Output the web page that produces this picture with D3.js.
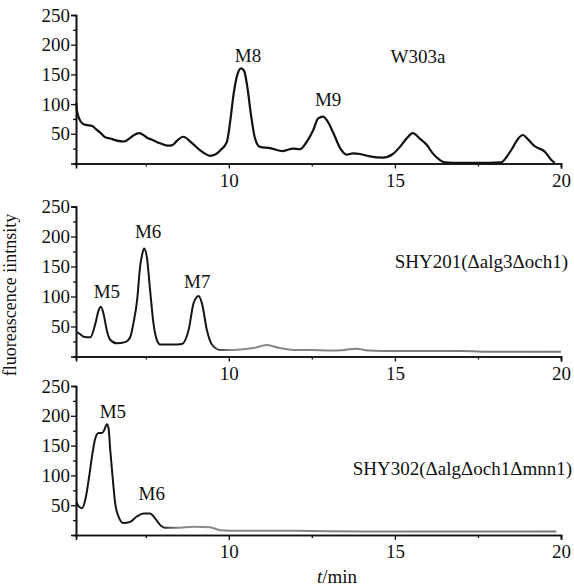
<!DOCTYPE html>
<html><head><meta charset="utf-8">
<script src="https://cdn.jsdelivr.net/npm/d3@7"></script>
<style>
body{margin:0;background:#fff;}
text{font-family:"Liberation Serif","Times New Roman",serif;fill:#111;}
</style></head>
<body><svg id="c" width="574" height="588"></svg>
<script>
// ---- data ----
const topT = [5.41,5.43,5.5,5.6,5.7,5.89,6.0,6.13,6.28,6.43,6.6,6.85,7.03,7.15,7.3,7.4,7.55,7.69,7.93,8.15,8.3,8.45,8.63,8.84,9.0,9.14,9.3,9.44,9.59,9.74,9.94,10.04,10.14,10.26,10.37,10.46,10.56,10.66,10.79,10.94,11.24,11.63,11.93,12.14,12.35,12.54,12.69,12.84,12.95,13.15,13.35,13.55,13.74,13.95,14.25,14.64,14.94,15.15,15.35,15.54,15.75,15.95,16.14,16.35,16.5,17.0,17.5,18.2,18.36,18.56,18.7,18.85,19.0,19.21,19.51,19.71,19.81];
const topV = [102,88,75,67,65,63,58,52,44,42,39,37,43,48,51,49,43,40,34,30,31,39,45,37,29,22,16,13,15,22,36,70,115,150,160,156,128,85,42,28,26,21,25,24,37,56,76,79,73,51,26,15,17,16,12,10,16,28,42,51,42,32,17,6,2,1,1,2,11,28,41,48,41,29,20,6,1];
const midT = [5.41,5.48,5.63,5.83,5.98,6.08,6.15,6.23,6.33,6.43,6.63,6.88,7.03,7.13,7.24,7.33,7.40,7.45,7.53,7.63,7.73,7.83,7.93,8.3,8.59,8.79,8.94,9.09,9.19,9.34,9.49,9.74,10.14,10.74,11.14,11.54,11.94,12.5,13.0,13.5,13.85,14.2,15,16,17,18,19,20];
const midV = [40,39,33,32,54,77,83,71,43,28,22,24,32,56,94,150,172,180,167,111,56,28,20,20,21,44,89,101,89,44,20,11,11,14,19,14,11,11,10,11,13,10,9,9,9,8,8,8];
const botT = [5.41,5.48,5.58,5.68,5.78,5.88,5.98,6.08,6.18,6.25,6.33,6.38,6.43,6.51,6.58,6.68,6.83,7.03,7.23,7.43,7.63,7.78,7.93,8.08,8.43,8.94,9.44,9.74,10.34,12,14,16,18,19.86];
const botV = [56,48,45,59,92,131,162,171,171,176,186,179,143,92,53,31,20,22,31,36,36,28,17,12,12,14,13,8,7,7,6,6,6,6];
const xTicks = [10,15,20];
const xMinor = [7.5,12.5,17.5];
const yTicks = [50,100,150,200,250];
const yMinor = [25,75,125,175,225];
const panelNames = ["W303a","SHY201(\u0394alg3\u0394och1)","SHY302(\u0394alg\u0394och1\u0394mnn1)"];
const peakNames = [["M8","M9"],["M5","M6","M7"],["M5","M6"]];
const peakPos = [[[10.58,171],[12.99,97]],[[6.33,98],[7.57,197],[9.05,114]],[[6.51,196],[7.68,59]]];
const xLabel = "min", yLabel = "fluoreascence iintnsity";

const svg = d3.select("#c");
const x = d3.scaleLinear().domain([5.4,20]).range([76,561]);
const panels = [
  {t:topT,v:topV,y0:163.5,y1:15,grey:null,name:panelNames[0],nx:418,ny:63,anchor:"middle",w:2.2},
  {t:midT,v:midV,y0:356.5,y1:206.5,grey:9.75,name:panelNames[1],nx:568,ny:268,anchor:"end",w:2},
  {t:botT,v:botV,y0:535,y1:386,grey:8.2,name:panelNames[2],nx:572,ny:475,anchor:"end",w:2}
];
const defs = svg.append("defs");
panels.forEach((p,i)=>{
  const y = d3.scaleLinear().domain([0,250]).range([p.y0,p.y1]);
  const g = svg.append("g");
  g.append("g").attr("transform",`translate(${x.range()[0]},0)`)
    .call(d3.axisLeft(y).tickValues(yTicks).tickSize(5).tickPadding(1).tickFormat(d3.format("d")));
  g.append("g").attr("transform",`translate(${x.range()[0]},0)`)
    .call(d3.axisLeft(y).tickValues(yMinor).tickSize(3).tickFormat(""));
  g.append("g").attr("transform",`translate(0,${p.y0})`)
    .call(d3.axisBottom(x).tickValues(xTicks).tickSize(5).tickPadding(5));
  g.append("g").attr("transform",`translate(0,${p.y0})`)
    .call(d3.axisBottom(x).tickValues(xMinor).tickSize(3).tickFormat(""));
  g.selectAll(".domain").attr("stroke","#111").attr("stroke-width",1.6);
  g.selectAll(".tick line").attr("stroke","#111").attr("stroke-width",1.3);
  g.selectAll(".tick text").attr("font-size",19).attr("font-family","Liberation Serif").attr("fill","#111");
  let stroke = "#111";
  if(p.grey){
    const gid="gr"+i;
    const lg = defs.append("linearGradient").attr("id",gid).attr("gradientUnits","userSpaceOnUse")
      .attr("x1",x(5.4)).attr("x2",x(20)).attr("y1",0).attr("y2",0);
    const f = (x(p.grey)-x(5.4))/(x(20)-x(5.4));
    lg.append("stop").attr("offset",f-0.02).attr("stop-color","#151515");
    lg.append("stop").attr("offset",f+0.02).attr("stop-color","#8a8a8a");
    lg.append("stop").attr("offset",1).attr("stop-color","#777");
    stroke = `url(#${gid})`;
  }
  const data = p.t.map((t,k)=>[t,p.v[k]]);
  g.append("path").datum(data)
    .attr("d",d3.line().x(d=>x(d[0])).y(d=>y(d[1])).curve(d3.curveMonotoneX))
    .attr("fill","none").attr("stroke",stroke).attr("stroke-width",p.w).attr("stroke-linejoin","round");
  g.append("text").attr("x",p.nx).attr("y",p.ny).attr("text-anchor",p.anchor).attr("font-size",19).text(p.name);
  peakNames[i].forEach((n,k)=>{
    g.append("text").attr("x",x(peakPos[i][k][0])).attr("y",y(peakPos[i][k][1])).attr("text-anchor","middle")
      .attr("font-size",19).text(n);
  });
});
const xt = svg.append("text").attr("x",337).attr("y",583).attr("text-anchor","middle").attr("font-size",19);
xt.append("tspan").attr("font-style","italic").text("t");
xt.append("tspan").text("/"+xLabel);
svg.append("text").attr("transform","translate(16,295) rotate(-90)").attr("text-anchor","middle")
  .attr("font-size",18).text(yLabel);
</script></body></html>
